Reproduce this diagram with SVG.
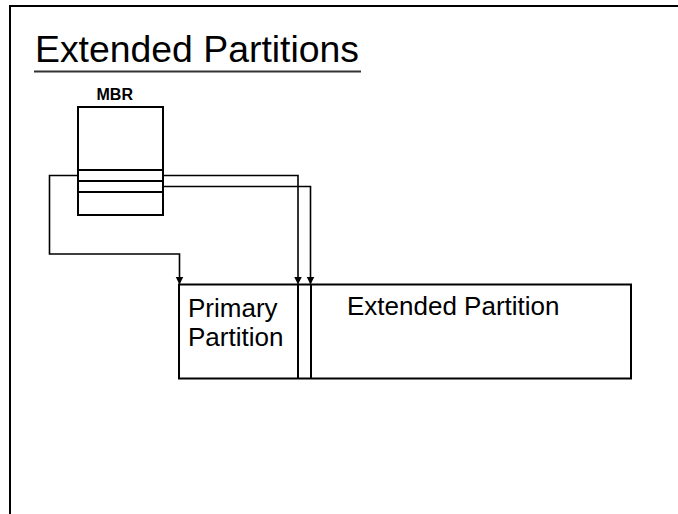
<svg xmlns="http://www.w3.org/2000/svg" width="678" height="514" viewBox="0 0 678 514">
<style>
.box{fill:#fff;stroke:#000;stroke-width:2}
.ln{fill:none;stroke:#000;stroke-width:2}
.wire{fill:none;stroke:#000;stroke-width:1.6}
.t{font-family:"Liberation Sans",Arial,sans-serif;fill:#000}
</style>
<defs>
<marker id="arr" markerWidth="8" markerHeight="10" refX="7" refY="4" orient="auto" markerUnits="userSpaceOnUse">
<path d="M0,0 L8,4 L0,8 Z" fill="#000"/>
</marker>
</defs>
<rect x="0" y="0" width="678" height="514" fill="#fff"/>
<rect x="10" y="6" width="700" height="540" fill="none" stroke="#000" stroke-width="2"/>
<g id="title">
<text class="t" x="35" y="62" font-size="36" textLength="324" lengthAdjust="spacingAndGlyphs">Extended Partitions</text>
<line x1="34" y1="71.5" x2="361" y2="71.5" stroke="#333" stroke-width="2"/>
</g>
<g id="mbr">
<text class="t" x="96.5" y="100" font-size="16" font-weight="bold">MBR</text>
<rect class="box" x="78" y="107" width="85" height="108"/>
<line class="ln" x1="78" y1="170" x2="163" y2="170"/>
<line class="ln" x1="78" y1="181" x2="163" y2="181"/>
<line class="ln" x1="78" y1="192" x2="163" y2="192"/>
</g>
<g id="disk">
<rect class="box" x="179" y="284.5" width="452" height="94"/>
<line class="ln" x1="298" y1="284.5" x2="298" y2="378.5"/>
<line class="ln" x1="311" y1="284.5" x2="311" y2="378.5"/>
<text class="t" x="188" y="316.5" font-size="26">Primary</text>
<text class="t" x="188" y="346" font-size="26">Partition</text>
<text class="t" x="347" y="315" font-size="26">Extended Partition</text>
</g>
<g id="connectors">
<path class="wire" d="M78,175.5 H49.5 V254 H179.5 V283.5" marker-end="url(#arr)"/>
<path class="wire" d="M163,175.5 H298 V283.5" marker-end="url(#arr)"/>
<path class="wire" d="M163,186.5 H310.5 V283.5" marker-end="url(#arr)"/>
</g>
</svg>
